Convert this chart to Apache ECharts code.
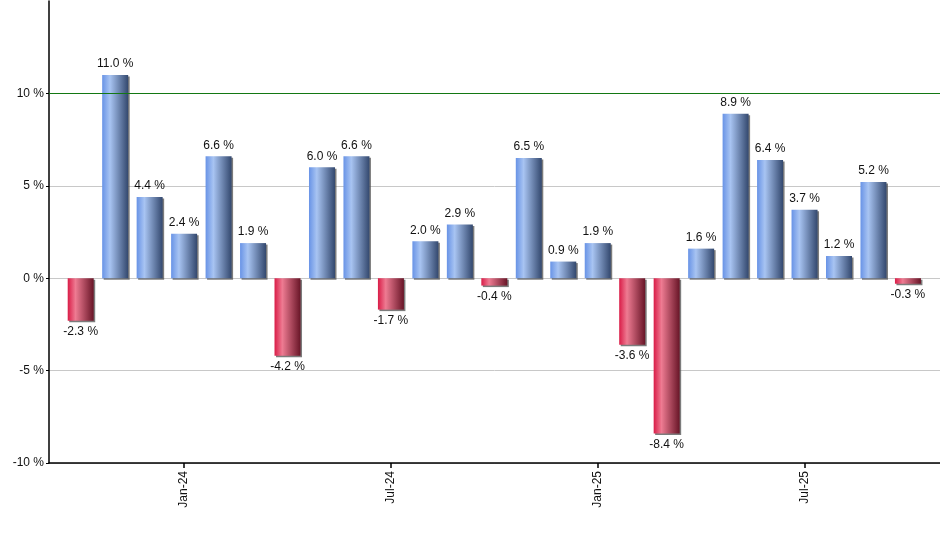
<!DOCTYPE html>
<html>
<head>
<meta charset="utf-8">
<script src="https://cdn.jsdelivr.net/npm/echarts@6/dist/echarts.min.js"></script>
<style>html,body{margin:0;padding:0;background:#fff}#c{width:940px;height:550px}</style>
</head>
<body>
<div id="c"></div>
<script>
// Monthly returns, Oct-23 .. Oct-25
const months = ['Oct-23','Nov-23','Dec-23','Jan-24','Feb-24','Mar-24','Apr-24','May-24','Jun-24','Jul-24','Aug-24','Sep-24','Oct-24','Nov-24','Dec-24','Jan-25','Feb-25','Mar-25','Apr-25','May-25','Jun-25','Jul-25','Aug-25','Sep-25','Oct-25'];
const values = [-2.3, 11.0, 4.4, 2.4, 6.6, 1.9, -4.2, 6.0, 6.6, -1.7, 2.0, 2.9, -0.4, 6.5, 0.9, 1.9, -3.6, -8.4, 1.6, 8.9, 6.4, 3.7, 1.2, 5.2, -0.3];
const tickLabels = ['Jan-24','Jul-24','Jan-25','Jul-25'];
const yTickValues = [-10, -5, 0, 5, 10];
const refLine = 10;

const tickIdx = tickLabels.map(l => months.indexOf(l));

const blueGrad = new echarts.graphic.LinearGradient(0,0,1,0,[
  {offset:0,color:'#6893e6'},{offset:0.3,color:'#a8c4f2'},{offset:1,color:'#33486e'}]);
const redGrad = new echarts.graphic.LinearGradient(0,0,1,0,[
  {offset:0,color:'#d91c47'},{offset:0.3,color:'#ee7b92'},{offset:1,color:'#681527'}]);

const data = months.map((m,i)=>({
  value:[i, values[i]],
  itemStyle:{color: values[i]>=0 ? blueGrad : redGrad},
  label:{position: values[i]>=0 ? 'top' : 'bottom'}
}));

const chart = echarts.init(document.getElementById('c'), null, {renderer:'canvas'});
chart.setOption({
  animation:false,
  grid:{left:49, right:0, top:1, bottom:87, containLabel:false},
  xAxis:{
    type:'value',
    min:-0.92, max:24.93,
    axisLine:{onZero:false, lineStyle:{color:'#000', width:1.5}},
    axisTick:{show:true, length:5, lineStyle:{color:'#000', width:1.5}, customValues: tickIdx},
    axisLabel:{
      rotate:90, margin:8, color:'#111', fontFamily:'Liberation Sans, Arial, sans-serif', fontSize:12,
      customValues: tickIdx,
      formatter:(v)=> months[Math.round(v)] || ''
    },
    splitLine:{show:false}
  },
  yAxis:{
    type:'value', min:-10, max:15, interval:5,
    axisLine:{show:true, onZero:false, lineStyle:{color:'#000', width:1.5}},
    axisTick:{show:true, length:3, lineStyle:{color:'#000'}, customValues: yTickValues},
    axisLabel:{color:'#111', fontFamily:'Liberation Sans, Arial, sans-serif', fontSize:12, margin:5,
      customValues: yTickValues,
      formatter:(v)=> v+' %'},
    splitLine:{show:true, lineStyle:{color:'#c8c8c8', width:1}}
  },
  series:[{
    type:'bar',
    barWidth:26,
    data:data,
    itemStyle:{shadowColor:'rgba(80,80,80,0.75)', shadowOffsetX:1.5, shadowOffsetY:1.5, shadowBlur:0},
    label:{show:true, distance:5, color:'#111', fontFamily:'Liberation Sans, Arial, sans-serif', fontSize:12,
      formatter:(p)=> p.value[1].toFixed(1)+' %'},
    markLine:{
      silent:true, symbol:['none','none'], label:{show:false},
      lineStyle:{color:'#137813', type:'solid', width:1.2, opacity:1},
      emphasis:{disabled:true},
      data:[{yAxis: refLine}]
    }
  }]
});
</script>
</body>
</html>
